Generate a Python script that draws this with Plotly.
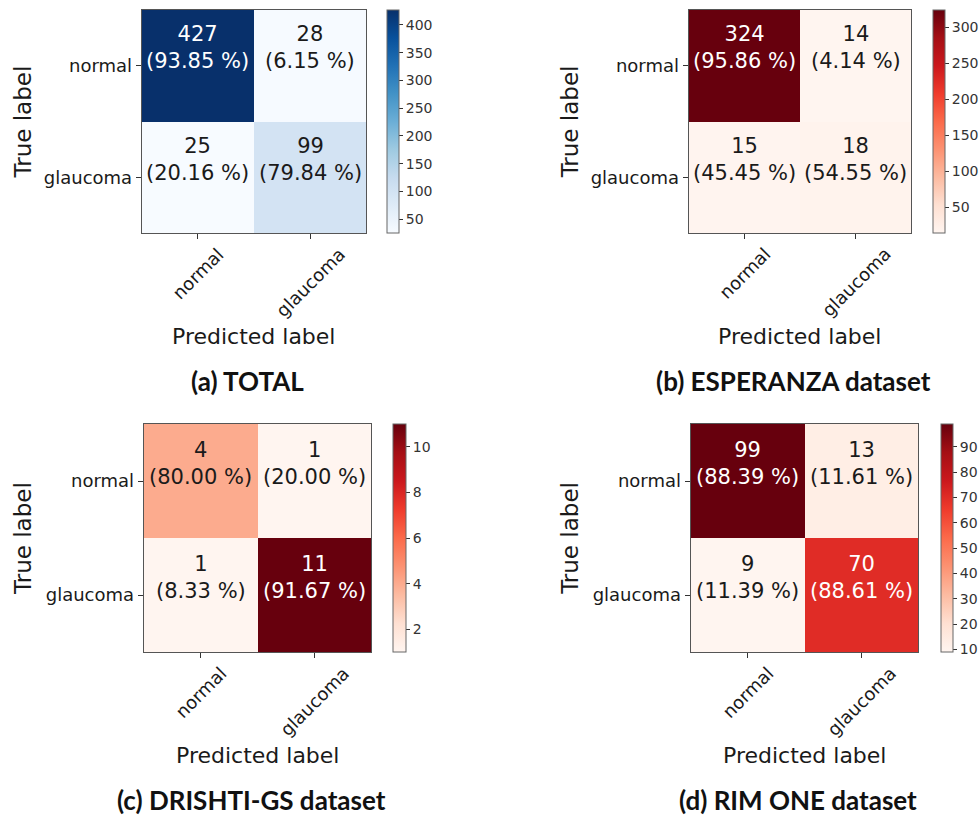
import plotly.graph_objects as go

# Confusion-matrix data for the four evaluations
classes = ["normal", "glaucoma"]

total_counts = [[427, 28], [25, 99]]
total_pct = [[93.85, 6.15], [20.16, 79.84]]

esperanza_counts = [[324, 14], [15, 18]]
esperanza_pct = [[95.86, 4.14], [45.45, 54.55]]

drishti_counts = [[4, 1], [1, 11]]
drishti_pct = [[80.00, 20.00], [8.33, 91.67]]

rimone_counts = [[99, 13], [9, 70]]
rimone_pct = [[88.39, 11.61], [11.39, 88.61]]

panel_titles = ["(a) TOTAL", "(b) ESPERANZA dataset",
                "(c) DRISHTI-GS dataset", "(d) RIM ONE dataset"]

# ColorBrewer sequential palettes (same stops as matplotlib's Blues/Reds)
BLUES = ["#f7fbff", "#deebf7", "#c6dbef", "#9ecae1", "#6baed6",
         "#4292c6", "#2171b5", "#08519c", "#08306b"]
REDS = ["#fff5f0", "#fee0d2", "#fcbba1", "#fc9272", "#fb6a4a",
        "#ef3b2c", "#cb181d", "#a50f15", "#67000d"]


def scale(colors):
    n = len(colors) - 1
    return [[i / n, c] for i, c in enumerate(colors)]


W, H = 980, 815


def px(xp):
    return xp / W


def py(yp):
    return 1 - yp / H


# pixel boxes: heatmap (left, right, top, bottom), colorbar (left, width), cbar dtick
panels = [
    dict(counts=total_counts, pct=total_pct, cs=BLUES, box=(142, 367, 10, 233),
         cb=(388, 12), dtick=50, ylab_x=23),
    dict(counts=esperanza_counts, pct=esperanza_pct, cs=REDS, box=(690, 913, 10, 233),
         cb=(935, 12), dtick=50, ylab_x=571),
    dict(counts=drishti_counts, pct=drishti_pct, cs=REDS, box=(144, 372, 424, 652),
         cb=(394, 13), dtick=2, ylab_x=23),
    dict(counts=rimone_counts, pct=rimone_pct, cs=REDS, box=(692, 920, 424, 652),
         cb=(943, 12), dtick=10, ylab_x=571),
]

TXT = "#1a1a1a"
FONT = "DejaVu Sans"

fig = go.Figure()
annotations = []
layout = {}

for i, p in enumerate(panels):
    k = "" if i == 0 else str(i + 1)
    xa, ya = "x" + k, "y" + k
    l, r, t, b = p["box"]
    counts = p["counts"]
    flat = [v for row in counts for v in row]
    zmin, zmax = min(flat), max(flat)
    cbl, cbw = p["cb"]

    fig.add_trace(go.Heatmap(
        z=counts, x=classes, y=classes, xaxis=xa, yaxis=ya,
        colorscale=scale(p["cs"]), zmin=zmin, zmax=zmax, xgap=0, ygap=0,
        hoverinfo="skip",
        colorbar=dict(
            x=px(cbl), xanchor="left", xpad=0, ypad=0,
            y=py(b), yanchor="bottom", len=(b - t) / H, lenmode="fraction",
            thickness=cbw, thicknessmode="pixels",
            outlinewidth=1, outlinecolor="#666666",
            tickmode="linear", tick0=0, dtick=p["dtick"],
            ticks="outside", ticklen=4, tickcolor="#333333",
            tickfont=dict(family=FONT, size=14, color="#333333"),
        ),
    ))

    layout["xaxis" + k] = dict(
        domain=[px(l), px(r)], anchor=ya, showgrid=False, zeroline=False,
        showline=True, mirror=True, linecolor="#555555", linewidth=1,
        ticks="outside", ticklen=5, tickcolor="#333333",
        showticklabels=False, fixedrange=True,
    )
    layout["yaxis" + k] = dict(
        domain=[py(b), py(t)], anchor=xa, showgrid=False, zeroline=False,
        showline=True, mirror=True, linecolor="#555555", linewidth=1,
        ticks="outside", ticklen=5, tickcolor="#333333",
        autorange="reversed", tickfont=dict(family=FONT, size=18, color=TXT),
        fixedrange=True,
    )

    # cell labels: count and row percentage
    thresh = zmax / 2
    for ri, cname_r in enumerate(classes):
        for ci, cname_c in enumerate(classes):
            v = counts[ri][ci]
            annotations.append(dict(
                x=cname_c, y=cname_r, xref=xa, yref=ya,
                text=f"{v}<br>({p['pct'][ri][ci]:.2f} %)",
                showarrow=False, yanchor="middle", yshift=18,
                font=dict(family=FONT, size=21,
                          color="white" if v > thresh else TXT),
            ))

    # rotated predicted-class labels under the matrix
    for cname, dy in zip(classes, [40, 49]):
        annotations.append(dict(
            x=cname, xref=xa, y=py(b + dy), yref="paper",
            text=cname, textangle=-45, showarrow=False,
            xanchor="center", yanchor="middle",
            font=dict(family=FONT, size=18, color=TXT),
        ))

    # axis titles
    annotations.append(dict(
        x=px((l + r) / 2), y=py(b + 103), xref="paper", yref="paper",
        text="Predicted label", showarrow=False, xanchor="center", yanchor="middle",
        font=dict(family=FONT, size=22, color=TXT),
    ))
    annotations.append(dict(
        x=px(p["ylab_x"]), y=py((t + b) / 2), xref="paper", yref="paper",
        text="True label", textangle=-90, showarrow=False,
        xanchor="center", yanchor="middle",
        font=dict(family=FONT, size=23, color=TXT),
    ))

    # panel caption
    annotations.append(dict(
        x=px((l + r) / 2 - 6), y=py(b + 148), xref="paper", yref="paper",
        text=f"<b>{panel_titles[i]}</b>", showarrow=False,
        xanchor="center", yanchor="middle",
        font=dict(family="Lato", size=26, color="#111111"),
    ))

fig.update_layout(
    width=W, height=H, margin=dict(l=0, r=0, t=0, b=0),
    paper_bgcolor="white", plot_bgcolor="white",
    annotations=annotations, showlegend=False, **layout,
)

fig.write_html("out.html")
